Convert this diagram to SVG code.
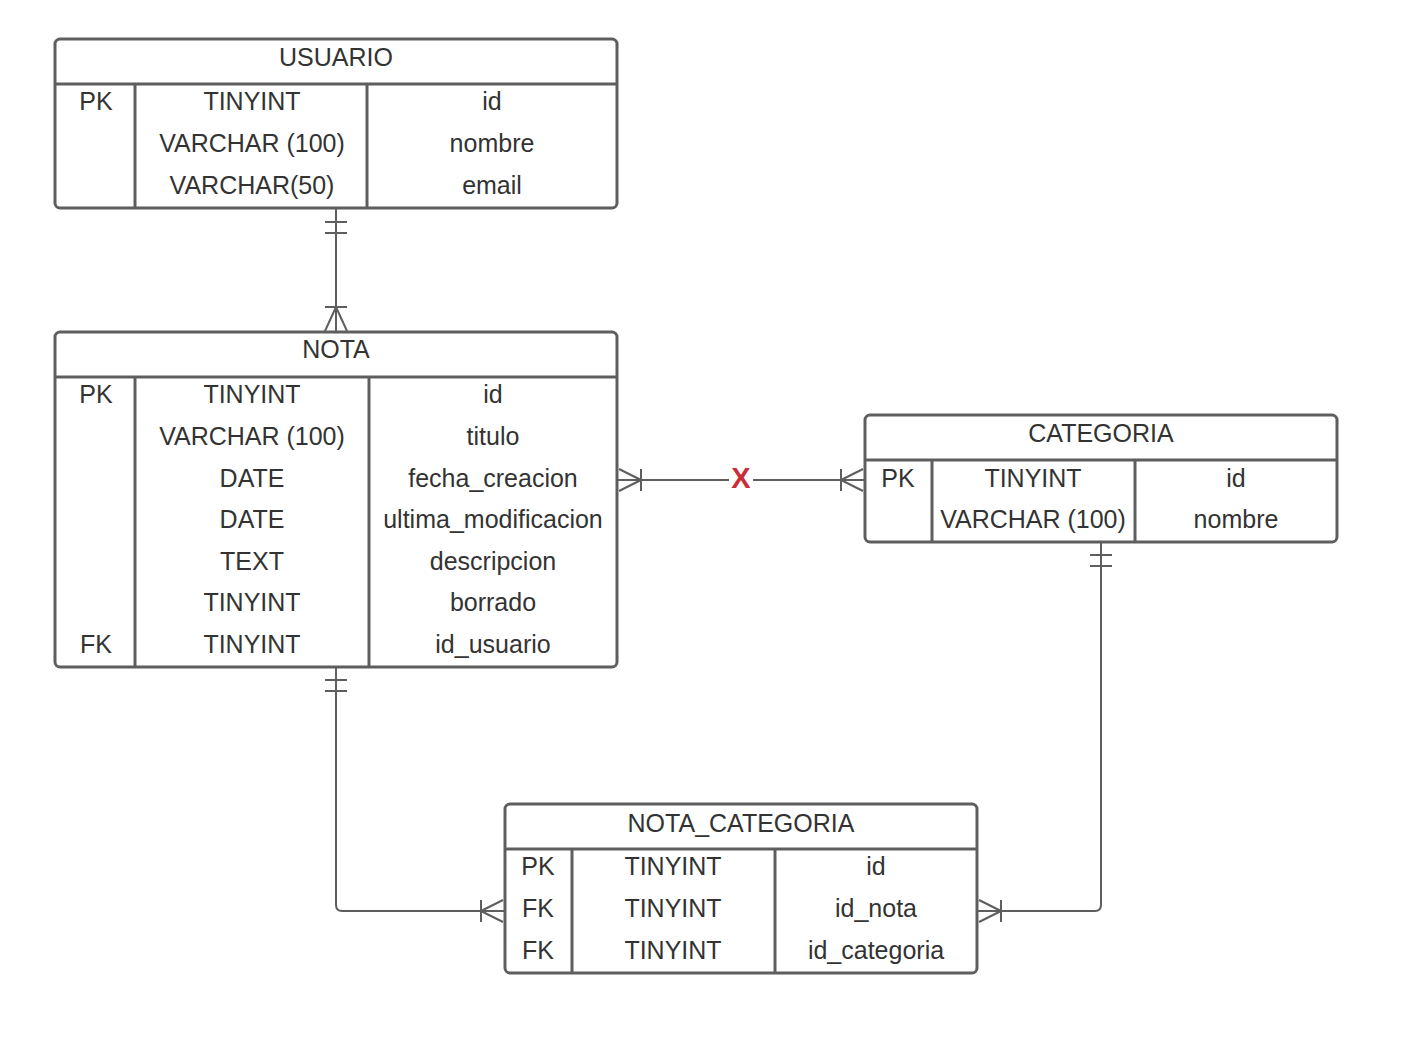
<svg xmlns="http://www.w3.org/2000/svg" width="1408" height="1046" viewBox="0 0 1408 1046">
<style>
.box{fill:#ffffff;stroke:#5e5e5e;stroke-width:3}
.div{stroke:#5e5e5e;stroke-width:3;fill:none}
.t{font-family:"Liberation Sans",Arial,sans-serif;font-size:25px;fill:#333333;text-anchor:middle}
.c{stroke:#5e5e5e;stroke-width:2;fill:none}
.x{font-family:"Liberation Sans",Arial,sans-serif;font-size:29px;font-weight:bold;fill:#c92d39;text-anchor:middle}
</style>
<rect width="1408" height="1046" fill="#ffffff"/>
<g id="connectors">
  <!-- USUARIO - NOTA -->
  <path class="c" d="M336 208 V332"/>
  <path class="c" d="M325 222 H347 M325 233 H347"/>
  <path class="c" d="M325 307 H347 M336 307 L325 331 M336 307 L347 331"/>
  <!-- NOTA - CATEGORIA -->
  <path class="c" d="M617 480 H729 M753 480 H865"/>
  <path class="c" d="M641 469 V491 M641 480 L619 469 M641 480 L619 491"/>
  <path class="c" d="M841 469 V491 M841 480 L863 469 M841 480 L863 491"/>
  <text class="x" x="741" y="488">X</text>
  <!-- NOTA - NOTA_CATEGORIA -->
  <path class="c" d="M336 667 V905 Q336 911 342 911 H505"/>
  <path class="c" d="M325 680 H347 M325 691 H347"/>
  <path class="c" d="M481 900 V922 M481 911 L503 900 M481 911 L503 922"/>
  <!-- CATEGORIA - NOTA_CATEGORIA -->
  <path class="c" d="M1101 542 V905 Q1101 911 1095 911 H977"/>
  <path class="c" d="M1090 555 H1112 M1090 566 H1112"/>
  <path class="c" d="M1001 900 V922 M1001 911 L979 900 M1001 911 L979 922"/>
</g>
<g id="usuario">
  <rect class="box" x="55" y="39" width="562" height="169" rx="5"/>
  <path class="div" d="M55 84 H617 M135 84 V208 M367 84 V208"/>
  <text class="t" x="336" y="66">USUARIO</text>
  <text class="t" x="96" y="110">PK</text>
  <text class="t" x="252" y="110">TINYINT</text>
  <text class="t" x="492" y="110">id</text>
  <text class="t" x="252" y="152">VARCHAR (100)</text>
  <text class="t" x="492" y="152">nombre</text>
  <text class="t" x="252" y="194">VARCHAR(50)</text>
  <text class="t" x="492" y="194">email</text>
</g>
<g id="nota">
  <rect class="box" x="55" y="332" width="562" height="335" rx="5"/>
  <path class="div" d="M55 377 H617 M135 377 V667 M369 377 V667"/>
  <text class="t" x="336" y="358">NOTA</text>
  <text class="t" x="96" y="403">PK</text>
  <text class="t" x="252" y="403">TINYINT</text>
  <text class="t" x="493" y="403">id</text>
  <text class="t" x="252" y="445">VARCHAR (100)</text>
  <text class="t" x="493" y="445">titulo</text>
  <text class="t" x="252" y="487">DATE</text>
  <text class="t" x="493" y="487">fecha_creacion</text>
  <text class="t" x="252" y="528">DATE</text>
  <text class="t" x="493" y="528">ultima_modificacion</text>
  <text class="t" x="252" y="570">TEXT</text>
  <text class="t" x="493" y="570">descripcion</text>
  <text class="t" x="252" y="611">TINYINT</text>
  <text class="t" x="493" y="611">borrado</text>
  <text class="t" x="96" y="653">FK</text>
  <text class="t" x="252" y="653">TINYINT</text>
  <text class="t" x="493" y="653">id_usuario</text>
</g>
<g id="categoria">
  <rect class="box" x="865" y="415" width="472" height="127" rx="5"/>
  <path class="div" d="M865 460 H1337 M932 460 V542 M1135 460 V542"/>
  <text class="t" x="1101" y="442">CATEGORIA</text>
  <text class="t" x="898" y="487">PK</text>
  <text class="t" x="1033" y="487">TINYINT</text>
  <text class="t" x="1236" y="487">id</text>
  <text class="t" x="1033" y="528">VARCHAR (100)</text>
  <text class="t" x="1236" y="528">nombre</text>
</g>
<g id="nota_categoria">
  <rect class="box" x="505" y="804" width="472" height="169" rx="5"/>
  <path class="div" d="M505 849 H977 M572 849 V973 M775 849 V973"/>
  <text class="t" x="741" y="832">NOTA_CATEGORIA</text>
  <text class="t" x="538" y="875">PK</text>
  <text class="t" x="673" y="875">TINYINT</text>
  <text class="t" x="876" y="875">id</text>
  <text class="t" x="538" y="917">FK</text>
  <text class="t" x="673" y="917">TINYINT</text>
  <text class="t" x="876" y="917">id_nota</text>
  <text class="t" x="538" y="959">FK</text>
  <text class="t" x="673" y="959">TINYINT</text>
  <text class="t" x="876" y="959">id_categoria</text>
</g>
</svg>
